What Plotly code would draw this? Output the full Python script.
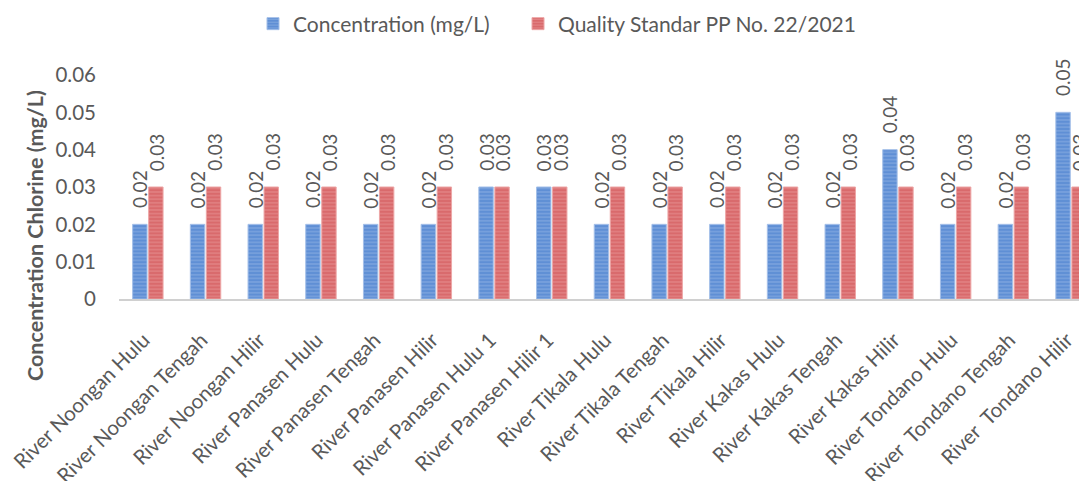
import plotly.graph_objects as go

categories = [
    "River Noongan Hulu", "River Noongan Tengah", "River Noongan Hilir",
    "River Panasen Hulu", "River Panasen Tengah", "River Panasen Hilir",
    "River Panasen Hulu 1", "River Panasen Hilir 1", "River Tikala Hulu",
    "River Tikala Tengah", "River Tikala Hilir", "River Kakas Hulu",
    "River Kakas Tengah", "River Kakas Hilir", "River Tondano Hulu",
    "River  Tondano Tengah", "River  Tondano Hilir",
]
concentration = [0.02, 0.02, 0.02, 0.02, 0.02, 0.02, 0.03, 0.03, 0.02,
                 0.02, 0.02, 0.02, 0.02, 0.04, 0.02, 0.02, 0.05]
standard = [0.03] * 17
y_ticks = [0, 0.01, 0.02, 0.03, 0.04, 0.05, 0.06]
y_tick_text = ["0", "0.01", "0.02", "0.03", "0.04", "0.05", "0.06"]

FONT = "Lato"
GRAY = "#595959"
BLUE = "#5F8FD5"
BLUE_L = "#A9C4EA"
RED = "#D96A6C"
RED_L = "#F0AAAA"

# the page body has an 8px margin: figure coords = page coords - 8
OFF = 8
W, H = 1087 - OFF, 481 - OFF
ML, MR, MT, MB = 119 - OFF, 0, 75 - OFF, H - (299 - OFF)

fig = go.Figure()
fig.add_trace(go.Bar(
    name="Concentration (mg/L)", x=categories, y=concentration,
    legend="legend",
    marker=dict(color=BLUE, line=dict(color="#A3BFE8", width=1),
                pattern=dict(shape="-", bgcolor=BLUE, fgcolor=BLUE_L,
                             size=3.6, solidity=0.3, fillmode="overlay")),
))
fig.add_trace(go.Bar(
    name="Quality Standar PP No. 22/2021", x=categories, y=standard,
    legend="legend2",
    marker=dict(color=RED, line=dict(color="#EDA6A6", width=1),
                pattern=dict(shape="-", bgcolor=RED, fgcolor=RED_L,
                             size=3.6, solidity=0.3, fillmode="overlay")),
))

# data labels
annotations = []
for series, shift in ((concentration, -8.3), (standard, 8.3)):
    for c, v in zip(categories, series):
        annotations.append(dict(
            x=c, y=v, xref="x", yref="y", text=f"{v:.2f}", showarrow=False,
            textangle=-90, yanchor="bottom", xanchor="center",
            xshift=shift, yshift=14,
            font=dict(family=FONT, size=19, color=GRAY),
        ))

plot_w = W - ML - MR
plot_h = H - MT - MB
annotations.append(dict(
    text="<b>Concentration Chlorine (mg/L)</b>", showarrow=False,
    xref="paper", yref="paper",
    x=(35 - OFF - ML) / plot_w, y=(H - MB - (236 - OFF)) / plot_h,
    xanchor="center", yanchor="middle", textangle=-90,
    font=dict(family=FONT, size=21.5, color=GRAY),
))

x_right = -0.5 + plot_w / 57.7

leg_common = dict(orientation="h", xref="container", yref="container",
                  y=1 - (24 - OFF) / H, xanchor="left", yanchor="middle",
                  font=dict(family=FONT, size=21, color=GRAY),
                  itemwidth=30, bgcolor="rgba(0,0,0,0)")

fig.update_layout(
    width=W, height=H,
    margin=dict(l=ML, r=MR, t=MT, b=MB, autoexpand=False),
    paper_bgcolor="white", plot_bgcolor="white",
    barmode="group", bargap=0.445, bargroupgap=0.1,
    font=dict(family=FONT, size=19, color=GRAY),
    showlegend=True,
    legend=dict(x=(253 - OFF) / W, **leg_common),
    legend2=dict(x=(518 - OFF) / W, **leg_common),
    annotations=annotations,
    xaxis=dict(range=[-0.5, x_right], tickangle=-45, showgrid=False,
               showline=True, linecolor="#D0D0D0", linewidth=2,
               ticks="", automargin=False,
               ticklabelstandoff=19, ticklabelshift=-4,
               tickfont=dict(family=FONT, size=20.5, color=GRAY)),
    yaxis=dict(range=[0, 0.06], tickvals=y_ticks, ticktext=y_tick_text,
               showgrid=False, zeroline=False, showline=False, ticks="",
               ticklabelstandoff=22, automargin=False,
               tickfont=dict(family=FONT, size=20.5, color=GRAY)),
)

fig.write_html("out.html")
